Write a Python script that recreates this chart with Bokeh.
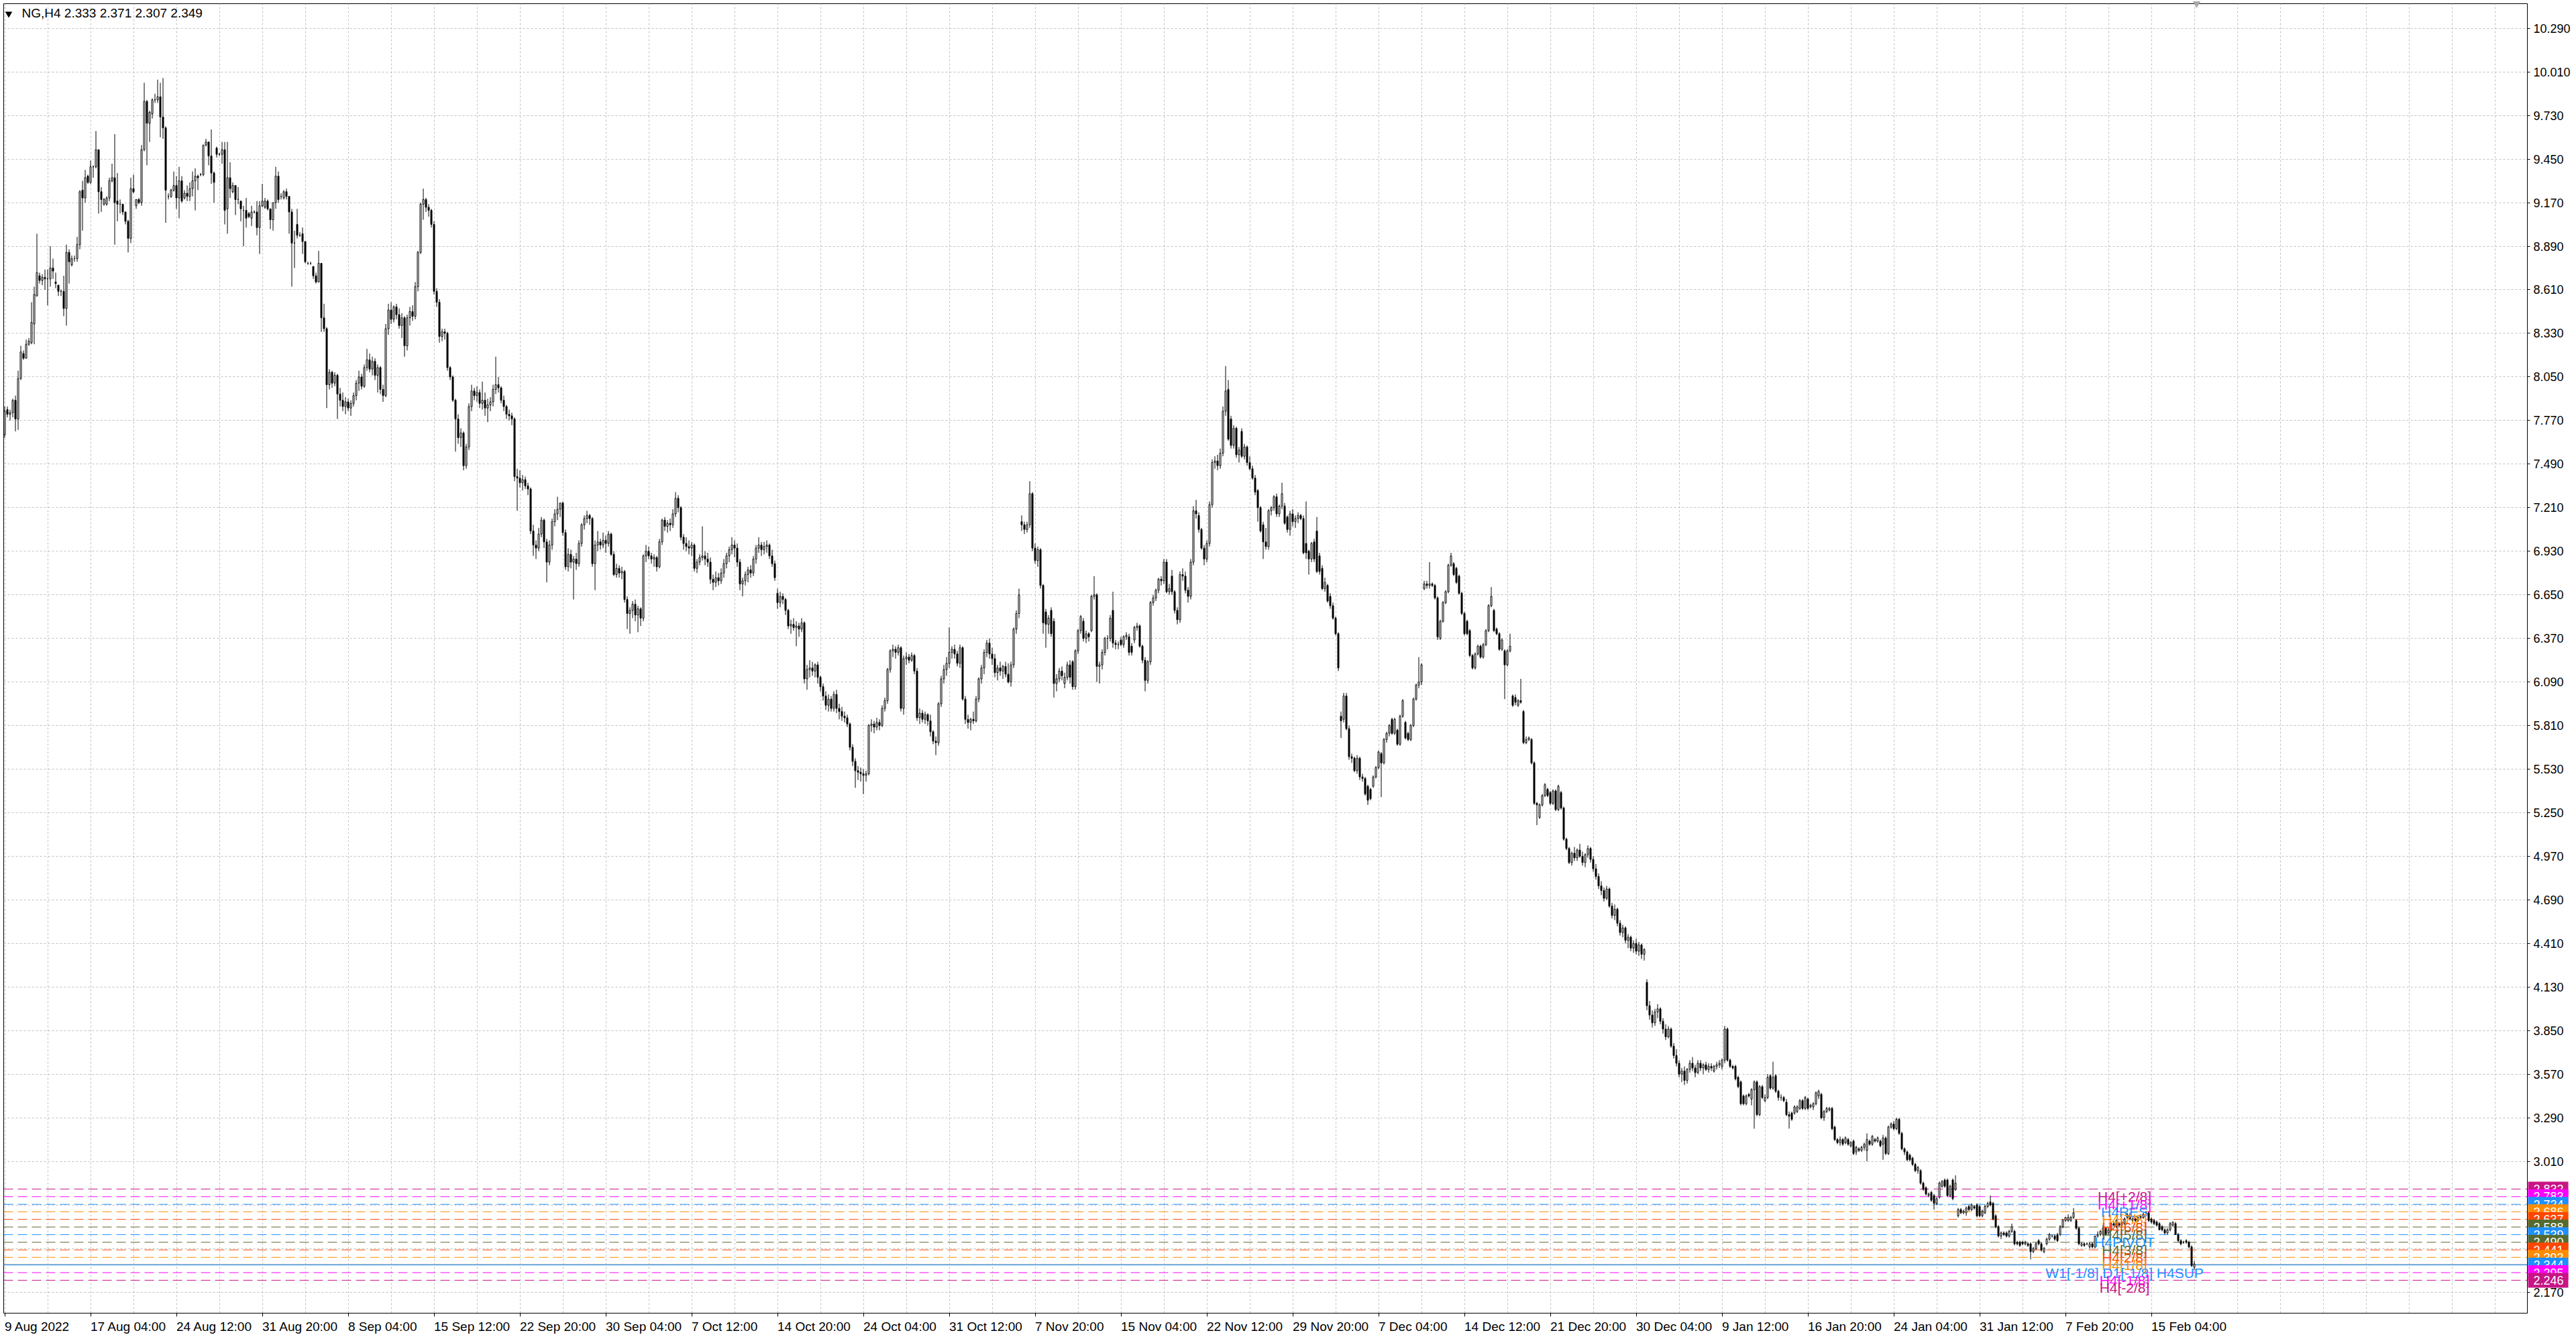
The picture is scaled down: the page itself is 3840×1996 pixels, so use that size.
from bokeh.plotting import figure
from bokeh.models import Range1d, FixedTicker, PrintfTickFormatter, ColumnDataSource
from bokeh.embed import file_html
from bokeh.resources import INLINE
from bokeh.core.properties import value

# ---------------- data (prices in hundredths) ----------------
OPEN = [
768,784,781,782,790,778,804,820,817,826, 827,839,857,870,867,869,868,868,875,866,
864,860,860,849,885,877,881,881,890,925, 920,934,930,940,940,951,924,916,916,920,
931,933,918,916,916,911,905,894,926,915, 919,917,951,982,968,974,983,983,985,972,
965,921,921,925,928,920,931,920,923,921, 926,931,934,935,935,954,956,947,936,952,
948,948,951,913,933,924,928,919,918,912, 912,910,907,911,911,901,915,914,918,913,
906,917,934,921,920,924,921,911,891,903, 896,897,892,878,878,876,870,866,878,843,
836,800,808,801,806,794,790,786,789,785, 788,793,801,805,799,811,816,810,815,806,
811,797,793,836,848,842,850,845,838,843, 825,843,847,844,863,885,916,919,914,912,
903,860,853,831,834,833,811,805,790,778, 766,769,748,760,786,796,793,795,788,790,
785,787,789,797,800,798,790,786,781,780, 778,741,740,737,739,735,733,706,697,695,
704,713,699,686,697,712,717,720,724,705, 683,691,686,688,685,698,710,714,716,714,
685,697,699,697,700,698,704,691,678,682, 679,680,662,653,655,659,652,656,650,690,
693,690,688,689,683,699,713,709,711,710, 717,727,721,702,698,696,695,697,682,686,
689,690,688,686,675,673,676,674,679,685, 690,694,697,695,686,672,674,678,681,679,
688,695,697,694,696,697,690,685,666,660, 664,662,655,645,646,644,645,643,647,611,
617,618,616,620,612,606,600,594,598,592, 601,592,590,587,586,582,567,558,552,551,
550,549,550,581,582,580,583,581,592,597, 617,629,630,628,631,592,624,625,623,626,
616,586,589,585,588,584,577,571,570,595, 611,617,621,628,630,627,621,631,598,585,
583,585,584,598,611,618,628,634,627,624, 615,618,616,619,614,609,620,643,653,712,
710,707,710,730,695,687,694,671,654,646, 655,648,608,611,616,608,612,620,622,606,
629,642,648,637,640,642,664,665,619,620, 628,637,637,655,634,633,636,633,638,638,
632,636,644,645,632,623,610,622,660,663, 668,675,674,686,667,677,667,655,649,678,
677,668,664,686,719,716,707,695,688,698, 723,750,751,748,756,783,797,778,761,772,
755,770,754,760,750,746,740,732,721,710, 699,696,719,721,728,717,722,722,715,707,
717,712,714,716,714,698,693,688,699,706, 690,682,669,671,664,658,650,640,587,585,
600,579,561,560,552,560,548,547,542,540, 542,548,554,563,557,572,576,585,576,578,
569,587,583,576,572,581,598,607,609,669, 672,671,672,671,663,637,648,660,667,684,
685,682,677,666,653,648,642,626,618,627, 632,625,633,642,658,655,643,640,630,629,
620,629,600,599,594,597,590,570,572,572, 557,531,522,530,536,540,538,531,539,527,
538,528,508,502,493,499,496,501,497,493, 498,502,495,489,484,478,475,470,476,465,
459,463,454,448,451,443,445,438,441,436, 440,434,416,401,395,390,397,399,391,386,
381,386,375,369,364,357,359,353,360,364, 361,358,364,361,363,360,362,359,362,363,
362,366,386,366,362,362,355,352,343,338, 344,341,347,352,331,349,340,342,356,348,
356,346,342,342,339,331,332,332,333,335, 340,335,341,336,336,338,343,344,329,333,
334,335,323,315,313,315,313,315,311,314, 307,309,308,310,308,314,312,315,314,314,
312,316,306,323,325,322,328,319,309,307, 305,303,299,295,295,287,284,279,281,279,
274,278,285,289,289,279,289,283,266,270, 268,268,272,270,272,273,272,266,268,272,
275,274,266,259,253,255,255,253,256,256, 249,249,249,248,248,248,243,245,250,248,
243,248,251,253,253,254,254,259,263,263, 263,265,263,258,247,248,248,246,248,246,
253,254,254,258,255,257,261,259,261,260, 261,265,266,263,264,263,266,265,268,268,
264,263,262,261,259,257,255,257,260,261, 254,250,249,250,249,246,233,
]
HIGH = [
786,786,784,791,793,809,825,822,829,830, 853,863,897,872,871,874,874,889,881,872,
864,861,870,890,887,883,883,895,925,931, 938,935,944,941,963,951,927,920,921,933,
942,961,936,919,916,911,906,933,935,919, 920,954,994,983,976,984,987,996,994,997,
966,923,926,937,934,940,934,925,928,930, 937,939,935,936,954,958,956,964,937,953,
949,956,956,956,943,930,928,927,918,915, 920,911,915,912,918,918,929,920,919,913,
917,940,937,923,925,926,921,913,899,913, 898,901,892,879,879,876,872,886,878,852,
837,810,809,808,807,798,795,792,791,790, 795,803,809,807,813,823,820,818,817,813,
812,800,839,852,853,851,852,849,846,844, 845,850,851,866,886,917,926,920,916,913,
905,862,855,836,836,834,812,806,791,781, 772,770,762,788,800,798,799,797,802,795,
791,792,800,818,805,799,793,787,784,782, 779,746,745,742,741,737,734,710,700,708,
715,714,701,700,714,720,728,724,725,707, 695,694,690,692,700,711,716,719,717,715,
700,706,701,705,703,706,705,693,685,684, 683,681,664,657,661,662,658,657,691,697,
696,692,691,690,701,714,715,713,714,720, 731,729,722,704,702,700,699,698,688,691,
709,693,692,689,678,680,679,682,688,692, 696,702,700,698,688,676,680,683,684,690,
697,702,699,699,700,698,694,687,669,667, 666,663,656,649,650,648,647,650,648,620,
623,622,621,622,613,608,603,601,600,603, 604,595,593,590,588,583,569,560,555,554,
553,552,582,585,584,586,585,594,599,618, 630,633,632,633,632,626,628,627,628,627,
618,592,591,590,589,588,578,574,596,613, 620,625,644,632,633,629,633,632,600,588,
586,590,600,612,620,630,636,637,631,627, 620,622,620,622,621,622,644,655,669,716,
712,712,738,731,698,696,695,672,656,652, 657,650,614,618,619,615,622,623,623,630,
643,652,650,642,641,665,677,666,622,630, 638,639,652,667,636,635,638,639,641,640,
634,645,647,646,633,625,623,661,665,669, 676,677,688,688,672,681,668,657,680,682,
680,670,688,722,726,718,708,697,700,725, 752,754,755,759,786,812,803,780,774,773,
760,772,762,761,754,748,742,733,722,712, 708,720,722,729,730,723,737,724,716,719,
720,716,718,717,716,725,694,699,701,715, 692,684,676,672,666,660,651,641,590,602,
602,581,563,561,562,561,550,548,543,541, 549,555,565,564,573,577,582,586,586,579,
588,598,584,577,582,599,608,625,621,674, 674,686,673,672,664,649,661,668,685,692,
686,683,678,667,654,649,643,627,628,633, 633,634,643,659,670,656,644,641,637,630,
630,640,601,601,598,611,591,574,574,573, 558,532,531,537,544,541,539,540,540,543,
539,529,509,503,500,503,502,505,500,499, 504,503,497,492,486,481,477,478,477,467,
466,464,456,453,452,447,446,443,444,442, 441,438,418,404,398,399,402,400,393,389,
388,387,377,373,366,361,362,361,366,368, 363,366,366,364,365,364,364,363,365,366,
367,388,387,367,363,363,356,353,344,344, 345,348,353,353,350,350,344,357,357,365,
357,347,344,343,341,333,333,337,337,341, 341,343,342,338,339,346,347,345,334,336,
336,336,324,316,317,316,317,316,314,315, 311,310,311,313,319,315,318,316,317,315,
318,317,324,326,327,329,329,320,310,308, 306,304,300,298,296,288,285,281,282,280,
278,288,289,290,290,286,290,292,271,271, 270,272,273,274,273,274,273,270,273,275,
279,275,267,260,256,256,256,257,261,257, 250,250,250,250,249,249,246,249,251,249,
246,252,255,254,254,255,260,264,265,267, 266,271,264,259,249,249,249,249,249,253,
256,257,260,259,258,262,262,264,262,263, 265,268,268,265,265,266,267,268,269,269,
265,264,263,262,260,258,258,262,262,262, 255,251,250,251,250,247,237,
]
LOW = [
766,779,777,779,770,771,803,816,817,825, 826,826,857,865,864,861,851,863,868,862,
857,857,844,838,865,876,879,879,887,899, 917,929,929,933,939,910,911,915,915,918,
930,890,905,910,909,903,885,891,923,913, 916,915,950,941,956,971,981,981,959,958,
904,919,920,924,913,907,917,919,918,918, 921,912,925,934,934,953,941,929,917,946,
947,942,903,897,920,923,909,916,905,889, 901,907,902,910,896,884,914,913,912,900,
899,913,917,919,919,919,897,863,875,894, 895,884,878,877,877,868,865,866,834,834,
785,797,798,799,778,786,783,781,783,780, 786,790,796,797,798,809,808,806,803,795,
794,789,792,832,839,840,842,836,830,818, 822,838,841,842,860,884,906,911,908,901,
858,850,827,828,829,809,803,789,757,762, 760,745,746,758,783,790,789,785,784,780,
776,783,786,794,795,788,783,778,777,774, 738,719,734,732,733,729,704,690,688,693,
702,695,673,684,694,709,713,715,703,681, 680,682,662,681,683,696,707,711,710,683,
668,693,694,695,692,696,690,677,676,676, 675,660,643,640,650,648,641,645,648,686,
688,685,683,680,682,697,706,705,706,708, 715,718,700,694,693,691,690,680,679,684,
687,684,683,672,668,670,671,672,676,682, 686,691,689,683,668,664,671,673,676,677,
685,692,690,691,692,688,683,674,656,657, 659,652,643,640,642,632,638,641,608,604,
612,613,612,608,603,597,591,590,590,590, 589,585,584,583,580,565,555,541,546,545,
537,545,549,577,576,578,578,580,590,595, 615,625,624,626,590,588,620,621,622,614,
584,582,583,582,581,574,569,562,568,593, 608,613,618,624,624,619,618,597,582,579,
578,582,583,596,608,614,625,624,620,612, 610,613,611,612,608,606,618,640,650,706,
704,705,708,693,685,683,669,640,631,640, 638,599,603,609,610,605,610,608,604,604,
627,640,635,634,635,641,662,609,608,617, 626,630,635,631,630,630,632,631,636,626,
626,634,642,631,621,603,608,620,658,661, 666,671,672,666,665,665,653,646,647,674,
666,660,662,684,714,705,694,684,686,696, 721,746,745,746,754,780,764,759,759,753,
750,753,752,748,745,739,729,712,705,688, 694,694,716,719,715,715,720,710,705,703,
709,708,711,713,691,688,678,686,686,679, 678,668,667,660,656,649,639,616,573,583,
578,559,557,551,550,546,545,536,530,533, 541,547,553,535,556,570,574,575,575,568,
568,586,572,571,571,580,597,605,607,668, 669,669,670,662,636,636,647,659,666,683,
677,672,665,652,639,639,625,617,617,626, 624,624,632,641,657,641,639,629,629,598,
619,628,593,594,593,595,569,569,571,556, 530,517,521,529,535,535,530,530,526,526,
527,507,501,492,491,494,494,496,491,490, 496,493,487,482,476,472,468,469,464,457,
456,452,446,445,441,438,436,435,434,433, 431,430,398,392,387,388,393,389,383,379,
380,374,367,362,355,352,350,351,358,359, 355,357,359,357,359,358,359,358,360,361,
360,364,365,361,360,353,348,337,337,337, 342,337,322,330,330,341,339,341,347,347,
345,340,340,339,330,322,327,331,332,334, 334,334,334,335,334,337,341,328,327,332,
333,321,314,312,311,311,312,311,310,305, 305,307,307,308,301,311,311,313,313,310,
302,305,305,322,321,321,318,308,305,301, 301,298,294,293,286,282,279,278,275,270,
273,277,284,284,278,278,276,282,265,267, 267,266,269,269,270,265,265,265,267,271,
272,263,258,252,251,253,252,252,255,247, 247,246,247,247,246,238,242,244,247,243,
242,247,250,252,250,249,253,258,262,262, 262,264,257,247,246,246,247,245,245,245,
252,253,253,253,254,256,259,258,259,259, 260,264,263,262,262,262,264,264,267,262,
261,260,259,257,256,254,254,256,259,254, 249,247,248,248,245,233,231,
]
CLOSE = [
783,781,782,790,778,804,821,817,826,828, 840,858,872,867,869,868,868,875,873,865,
860,860,849,885,879,881,881,890,924,920, 933,930,940,940,951,924,919,919,920,931,
933,917,916,916,911,905,894,926,924,919, 917,951,982,968,975,983,983,985,972,965,
925,921,925,928,920,931,918,923,921,926, 931,934,933,935,954,956,947,936,930,948,
948,951,912,933,926,928,919,919,913,912, 907,908,911,911,901,915,918,918,913,906,
917,934,919,921,924,921,911,891,891,896, 896,892,879,878,878,870,866,878,843,836,
800,808,801,806,794,790,786,789,785,788, 793,801,805,799,811,816,810,815,806,811,
797,793,836,848,842,850,845,838,843,825, 843,847,844,863,885,916,919,914,912,903,
860,853,831,834,833,811,805,790,778,766, 769,748,760,786,796,793,795,788,790,785,
787,789,797,800,798,790,786,781,780,778, 741,740,737,739,735,733,706,697,695,704,
713,699,686,697,712,717,720,724,705,683, 691,686,688,685,698,710,714,716,714,685,
697,699,697,700,698,704,691,678,682,679, 680,662,653,655,659,652,656,650,690,693,
690,688,689,683,699,713,709,711,710,717, 727,721,702,698,696,695,697,682,686,689,
690,688,686,675,673,676,674,679,685,690, 694,697,695,686,672,674,678,681,679,688,
695,697,694,696,697,690,685,676,660,664, 662,655,645,646,644,645,643,647,611,617,
618,616,620,612,606,600,594,598,592,601, 592,590,587,586,582,567,558,552,551,550,
549,550,581,582,580,583,581,592,597,617, 629,630,628,631,592,624,625,623,626,616,
586,589,585,588,584,577,571,570,595,611, 617,621,628,630,627,621,631,598,585,583,
585,584,598,611,618,628,634,627,624,615, 618,616,619,614,609,620,643,653,665,710,
707,710,730,695,687,694,671,647,646,650, 640,608,611,616,613,612,620,612,606,629,
642,651,637,640,638,664,665,619,620,628, 637,637,650,634,633,633,633,638,639,628,
628,644,645,632,623,610,622,660,663,668, 675,674,686,667,669,667,655,649,678,677,
668,664,686,719,717,707,695,688,698,723, 750,751,748,756,783,796,765,761,772,755,
758,754,760,750,746,740,731,721,706,699, 696,719,721,728,717,722,730,711,707,717,
712,714,716,714,692,692,688,698,688,680, 680,669,673,661,658,650,640,618,584,600,
579,561,560,552,560,548,547,537,533,534, 548,554,564,557,572,576,581,576,585,569,
587,597,573,572,581,598,607,609,620,672, 671,672,671,663,638,648,660,667,684,690,
678,673,666,653,640,640,626,618,627,632, 625,633,642,658,664,642,640,630,636,620,
629,632,594,596,597,596,570,572,573,557, 531,530,530,536,543,536,531,539,527,542,
528,508,502,493,499,496,501,497,493,498, 502,495,489,484,478,475,470,476,465,459,
463,454,448,451,443,445,438,441,436,440, 434,437,401,395,390,397,399,391,386,381,
386,375,369,364,357,359,353,360,364,361, 358,364,361,363,360,362,361,362,363,364,
366,386,366,362,361,354,349,338,338,343, 343,347,352,331,349,342,342,355,348,355,
346,342,342,340,331,330,328,336,336,340, 335,342,335,337,338,345,346,329,333,335,
335,322,315,313,315,312,316,312,313,306, 310,308,310,312,315,312,317,314,316,311,
316,306,323,325,322,328,319,309,307,302, 302,299,295,297,287,283,280,280,276,274,
277,287,288,285,279,285,277,287,270,268, 269,271,270,273,271,266,266,269,272,274,
273,264,259,253,255,254,253,256,259,248, 248,247,248,249,247,243,245,248,248,244,
245,251,254,253,251,250,259,263,265,265, 265,268,258,248,248,247,248,248,246,253,
254,256,258,254,257,261,260,263,260,262, 264,267,264,264,263,265,265,267,268,263,
262,261,260,257,257,255,257,261,262,254, 250,248,249,249,246,234,235,
]

X_LABELS = ["9 Aug 2022", "17 Aug 04:00", "24 Aug 12:00", "31 Aug 20:00", "8 Sep 04:00",
            "15 Sep 12:00", "22 Sep 20:00", "30 Sep 04:00", "7 Oct 12:00", "14 Oct 20:00",
            "24 Oct 04:00", "31 Oct 12:00", "7 Nov 20:00", "15 Nov 04:00", "22 Nov 12:00",
            "29 Nov 20:00", "7 Dec 04:00", "14 Dec 12:00", "21 Dec 20:00", "30 Dec 04:00",
            "9 Jan 12:00", "16 Jan 20:00", "24 Jan 04:00", "31 Jan 12:00", "7 Feb 20:00",
            "15 Feb 04:00"]
Y_TICKS = [10.29, 10.01, 9.73, 9.45, 9.17, 8.89, 8.61, 8.33, 8.05, 7.77, 7.49, 7.21, 6.93,
           6.65, 6.37, 6.09, 5.81, 5.53, 5.25, 4.97, 4.69, 4.41, 4.13, 3.85, 3.57, 3.29,
           3.01, 2.73, 2.45, 2.17]

LEVELS = [2.832, 2.783, 2.734, 2.686, 2.637, 2.588, 2.539, 2.490, 2.441, 2.393, 2.344, 2.295, 2.246]
LEVEL_NAMES = ["H4[+2/8]", "H4[+1/8]", "H4RES", "H4[7/8]", "H4[6/8]", "H4[5/8]", "H4PIVOT",
               "H4[3/8]", "H4[2/8]", "H4[1/8]", "W1[-1/8] D1[-1/8] H4SUP", "H4[-1/8]", "H4[-2/8]"]
LEVEL_COLORS = ["#C71585", "#FF00FF", "#1E90FF", "#FF8C00", "#FF4500", "#556B2F", "#1E90FF",
                "#556B2F", "#FF4500", "#FF8C00", "#1E90FF", "#FF00FF", "#C71585"]
BID = 2.349
HEADER = "NG,H4  2.333 2.371 2.307 2.349"

# ---------------- layout constants (canvas pixels) ----------------
W, HT = 3840, 1996
LEFT_B, TOP_B, RIGHT_B, BOTTOM_B = 5, 5, 73, 39
FRAME_W = W - LEFT_B - RIGHT_B
FRAME_H = HT - TOP_B - BOTTOM_B
BAR_PX = 4.0
PX_PER_UNIT = 232.0
X0 = -0.375
X1 = X0 + FRAME_W / BAR_PX
Y_TOP = 10.29 + (41.7 - TOP_B) / PX_PER_UNIT
Y_BOT = Y_TOP - FRAME_H / PX_PER_UNIT
FONT = "Liberation Sans"
GRID = "#c0c0c0"


def px_x(px):   # canvas x pixel -> data x
    return X0 + (px - LEFT_B) / BAR_PX


def px_y(py):   # canvas y pixel (from top) -> price
    return Y_TOP - (py - TOP_B) / PX_PER_UNIT


n = min(len(OPEN), len(HIGH), len(LOW), len(CLOSE))
xs = list(range(n))
o = [v / 100 for v in OPEN[:n]]
c = [v / 100 for v in CLOSE[:n]]
h = [max(HIGH[i], OPEN[i], CLOSE[i]) / 100 for i in range(n)]
l = [min(LOW[i], OPEN[i], CLOSE[i]) / 100 for i in range(n)]
top = [max(a, b) for a, b in zip(o, c)]
bot = [min(a, b) for a, b in zip(o, c)]
bull = [ci >= oi for oi, ci in zip(o, c)]

p = figure(width=W, height=HT, x_range=Range1d(X0, X1), y_range=Range1d(Y_BOT, Y_TOP),
           output_backend="svg", toolbar_location=None, tools="", y_axis_location="right",
           min_border_left=LEFT_B, min_border_top=TOP_B, min_border_right=RIGHT_B,
           min_border_bottom=BOTTOM_B, background_fill_color="white",
           border_fill_color="white")
p.outline_line_color = "black"
p.outline_line_width = 1

# x axis: ticks every 32 bars, grid every 16 bars, labels drawn left-aligned below
major = [i * 32 for i in range(len(X_LABELS))]
minor = [k for k in range(16, int(X1), 16) if k not in major]
p.xaxis.ticker = FixedTicker(ticks=major, minor_ticks=minor)
p.xaxis.major_label_overrides = {m: "" for m in major}
p.xaxis.major_tick_out = 5
p.xaxis.major_tick_in = 0
p.xaxis.minor_tick_line_color = None
p.xaxis.axis_line_color = "black"
p.xaxis.major_tick_line_color = "black"

p.yaxis.ticker = FixedTicker(ticks=Y_TICKS)
p.yaxis.formatter = PrintfTickFormatter(format="%.3f")
p.yaxis.major_label_text_font = FONT
p.yaxis.major_label_text_font_size = "18px"
p.yaxis.major_label_text_color = "black"
p.yaxis.major_tick_out = 4
p.yaxis.major_tick_in = 0
p.yaxis.minor_tick_line_color = None
p.yaxis.major_label_standoff = 5
p.yaxis.axis_line_color = "black"

for g in (p.xgrid, p.ygrid):
    g.grid_line_color = GRID
    g.grid_line_dash = "3 3"
    g.grid_line_width = 1
p.xgrid.minor_grid_line_color = GRID
p.xgrid.minor_grid_line_dash = "3 3"

# level lines
for lv, col in zip(LEVELS, LEVEL_COLORS):
    dash = "solid" if lv == 2.344 else "14 7"
    p.segment(x0=[X0], x1=[X1], y0=[lv], y1=[lv], line_color=col, line_width=1, line_dash=dash)
p.segment(x0=[X0], x1=[X1], y0=[BID], y1=[BID], line_color="#b8b8b8", line_width=1)

# candles
src = ColumnDataSource(dict(x=xs, h=h, l=l))
p.segment(x0="x", x1="x", y0="h", y1="l", source=src, line_color="black", line_width=1)
bull_src = ColumnDataSource(dict(x=[x for x, b in zip(xs, bull) if b],
                                 top=[t for t, b in zip(top, bull) if b],
                                 bot=[t for t, b in zip(bot, bull) if b]))
bear_src = ColumnDataSource(dict(x=[x for x, b in zip(xs, bull) if not b],
                                 top=[t for t, b in zip(top, bull) if not b],
                                 bot=[t for t, b in zip(bot, bull) if not b]))
p.vbar(x="x", width=0.5, top="top", bottom="bot", source=bull_src,
       fill_color="white", line_color="black", line_width=1)
p.vbar(x="x", width=0.5, top="top", bottom="bot", source=bear_src,
       fill_color="black", line_color="black", line_width=1)

# level names inside the chart
p.text(x=[790] * len(LEVELS), y=LEVELS, text=LEVEL_NAMES, text_color=LEVEL_COLORS,
       text_font=value(FONT), text_font_size="21px", text_align="center",
       text_baseline="top")

# time labels, left-aligned at their ticks
p.text(x=major, y=[px_y(1977)] * len(major), text=X_LABELS, text_font=value(FONT),
       text_font_size="19px", text_color="black", text_align="left",
       text_baseline="middle", level="overlay")

# header
p.scatter(x=[px_x(12.5)], y=[px_y(20)], marker="inverted_triangle", size=9,
          fill_color="black", line_color="black", level="overlay")
p.text(x=[px_x(32)], y=[px_y(19)], text=[HEADER], text_font=value(FONT),
       text_font_size="19px", text_color="black", text_align="left",
       text_baseline="middle", level="overlay")
# chart shift marker
p.scatter(x=[px_x(3274)], y=[px_y(5)], marker="inverted_triangle", size=10,
          fill_color="#a8a8a8", line_color="#a8a8a8", level="overlay")

# price boxes on the right scale
half = 11 / PX_PER_UNIT
for lv, col in zip(LEVELS, LEVEL_COLORS):
    p.quad(left=[px_x(3768)], right=[px_x(3828)], top=[lv + half],
           bottom=[lv - half], fill_color=col, line_color=None, level="overlay")
    p.text(x=[px_x(3776)], y=[lv], text=["%.3f" % lv], text_color="white",
           text_font=value(FONT), text_font_size="18px", text_align="left",
           text_baseline="middle", level="overlay")

open("out.html", "w").write(file_html(p, INLINE))
